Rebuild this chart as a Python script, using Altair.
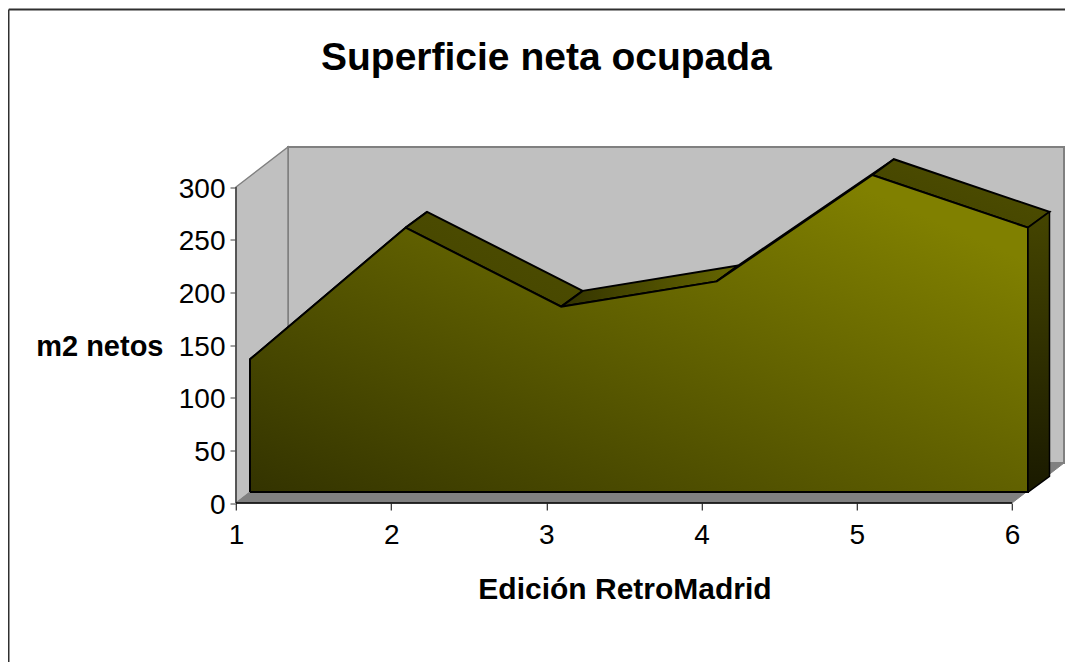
import altair as alt
import pandas as pd

editions = [1, 2, 3, 4, 5, 6]
metres = [126, 251, 176, 200, 301, 251]
y_ticks = [0, 50, 100, 150, 200, 250, 300]

# picture geometry (page pixels)
PX_X = 155.2
PX_Y = 1.0533
ORIGIN_X, ORIGIN_Y = 236, 503
LEFT, TOP, W, H = 8.75, 9.5, 1056.25, 660

x_dom = [1 + (LEFT - ORIGIN_X) / PX_X, 1 + (LEFT + W - ORIGIN_X) / PX_X]
y_dom = [(ORIGIN_Y - (TOP + H)) / PX_Y, (ORIGIN_Y - TOP) / PX_Y]
xs = alt.Scale(domain=x_dom, nice=False, zero=False)
ys = alt.Scale(domain=y_dom, nice=False, zero=False)

# depth offsets, in data units
WALL_DX, WALL_DY = 52 / PX_X, 40 / PX_Y
FRONT_DX, FRONT_DY = 14 / PX_X, 10.4
BACK_DX, BACK_DY = FRONT_DX + 21.5 / PX_X, FRONT_DY + 15.8 / PX_Y
AREA_STRETCH = 778 / 776

X_AXIS = alt.Axis(
    values=editions, format="d", domain=False, grid=False, offset=ORIGIN_Y - (TOP + H),
    tickColor="#000000", tickSize=7, labelFontSize=28, labelFont="Liberation Sans", labelColor="#000000",
    labelPadding=11, labelFlush=False, labelOverlap=False,
    title="Edición RetroMadrid", titleFont="Liberation Sans", titleFontSize=30, titleFontWeight="bold",
    titleColor="#000000", titleX=ORIGIN_X - LEFT + 388.5, titleY=71, titleAnchor="middle", titleAlign="center")
Y_AXIS = alt.Axis(
    values=y_ticks, format="d", domain=False, grid=False, offset=LEFT - ORIGIN_X,
    tickColor="#404040", tickSize=6, labelFontSize=28, labelFont="Liberation Sans", labelColor="#000000",
    labelPadding=5, labelOffset=2, labelFlush=False, labelOverlap=False,
    title="m2 netos", titleFont="Liberation Sans", titleFontSize=29, titleFontWeight="bold",
    titleColor="#000000", titleAngle=0, titleX=-73, titleY=346 - TOP, titleAlign="right", titleBaseline="middle")
X_ENC = alt.X("x:Q", scale=xs, axis=X_AXIS)
Y_ENC = alt.Y("y:Q", scale=ys, axis=Y_AXIS)


def grad(c0, c1, x1=0, y1=1, x2=1, y2=0):
    return alt.Gradient(
        gradient="linear", x1=x1, y1=y1, x2=x2, y2=y2,
        stops=[alt.GradientStop(color=c0, offset=0), alt.GradientStop(color=c1, offset=1)],
    )


def poly(points, fill, stroke, sw):
    pts = list(points) + [points[0]]
    df = pd.DataFrame({"x": [p[0] for p in pts], "y": [p[1] for p in pts], "o": range(len(pts))})
    return alt.Chart(df).mark_line(fill=fill, stroke=stroke, strokeWidth=sw, strokeJoin="miter").encode(
        x=X_ENC, y=Y_ENC, order="o:Q")


x_min, x_max = editions[0], editions[-1]
y_top = y_ticks[-1]
area_x = [x_min + (e - x_min) * AREA_STRETCH for e in editions]

back = poly([(x_min + WALL_DX, WALL_DY), (x_max + WALL_DX, WALL_DY),
             (x_max + WALL_DX, y_top + WALL_DY), (x_min + WALL_DX, y_top + WALL_DY)],
            "#c0c0c0", "#808080", 2)
left_wall = poly([(x_min, 0), (x_min + WALL_DX, WALL_DY), (x_min + WALL_DX, y_top + WALL_DY), (x_min, y_top)],
                 "#c0c0c0", "#808080", 1.5)
floor = poly([(x_min, 0), (x_max, 0), (x_max + WALL_DX, WALL_DY), (x_min + WALL_DX, WALL_DY)],
             "#808080", "#808080", 1)

tops = []
top_fills = [
    grad("#4d4d00", "#4d4d00"),
    grad("#444400", "#4f4f00"),
    grad("#333300", "#666600", 0, 0.5, 1, 0.5),
    grad("#4a4a00", "#4f4f00"),
    grad("#424200", "#505000"),
]
for i in range(len(editions) - 1):
    a, b = area_x[i], area_x[i + 1]
    va, vb = metres[i], metres[i + 1]
    tops.append(poly([(a + FRONT_DX, va + FRONT_DY), (b + FRONT_DX, vb + FRONT_DY),
                      (b + BACK_DX, vb + BACK_DY), (a + BACK_DX, va + BACK_DY)],
                     top_fills[i], "#000000", 2))

front_pts = [(e + FRONT_DX, m + FRONT_DY) for e, m in zip(area_x, metres)]
front = poly([(area_x[0] + FRONT_DX, FRONT_DY)] + front_pts + [(area_x[-1] + FRONT_DX, FRONT_DY)],
             grad("#333300", "#808000", 0, 1, 0.906, 0.17), "#000000", 2)
side = poly([(area_x[-1] + FRONT_DX, FRONT_DY), (area_x[-1] + BACK_DX, BACK_DY),
             (area_x[-1] + BACK_DX, metres[-1] + BACK_DY), (area_x[-1] + FRONT_DX, metres[-1] + FRONT_DY)],
            grad("#1a1a00", "#454500", 0.5, 1, 0.5, 0), "#000000", 1.5)

y_rule = alt.Chart(pd.DataFrame({"x": [x_min], "y": [0], "y2": [y_top]})).mark_rule(
    color="#404040", strokeWidth=1.5).encode(x=X_ENC, y=Y_ENC, y2="y2:Q")
x_rule = alt.Chart(pd.DataFrame({"x": [x_min], "x2": [x_max], "y": [0]})).mark_rule(
    color="#000000", strokeWidth=1.5).encode(x=X_ENC, x2="x2:Q", y=Y_ENC)

frame_df = pd.DataFrame({"k": [0]})
frame_top = alt.Chart(frame_df).mark_rule(color="#303030", strokeWidth=2).encode(
    x=alt.value(0), x2=alt.value(W), y=alt.value(0))
frame_left = alt.Chart(frame_df).mark_rule(color="#303030", strokeWidth=1.5).encode(
    x=alt.value(0), y=alt.value(0), y2=alt.value(H))

chart = alt.layer(back, left_wall, floor, *tops, front, side, y_rule, x_rule, frame_top, frame_left).properties(
    width=W, height=H,
    autosize=alt.AutoSizeParams(type="none"),
    padding={"left": LEFT - 8, "top": TOP - 8, "right": 0, "bottom": 0},
    background="#ffffff",
    title=alt.TitleParams("Superficie neta ocupada", font="Liberation Sans", fontSize=39, fontWeight="bold",
                          color="#000000", anchor="middle", offset=-69, dx=9.5),
).configure_view(stroke="transparent")

chart.save("out.html", embed_options={"renderer": "svg", "actions": False})
